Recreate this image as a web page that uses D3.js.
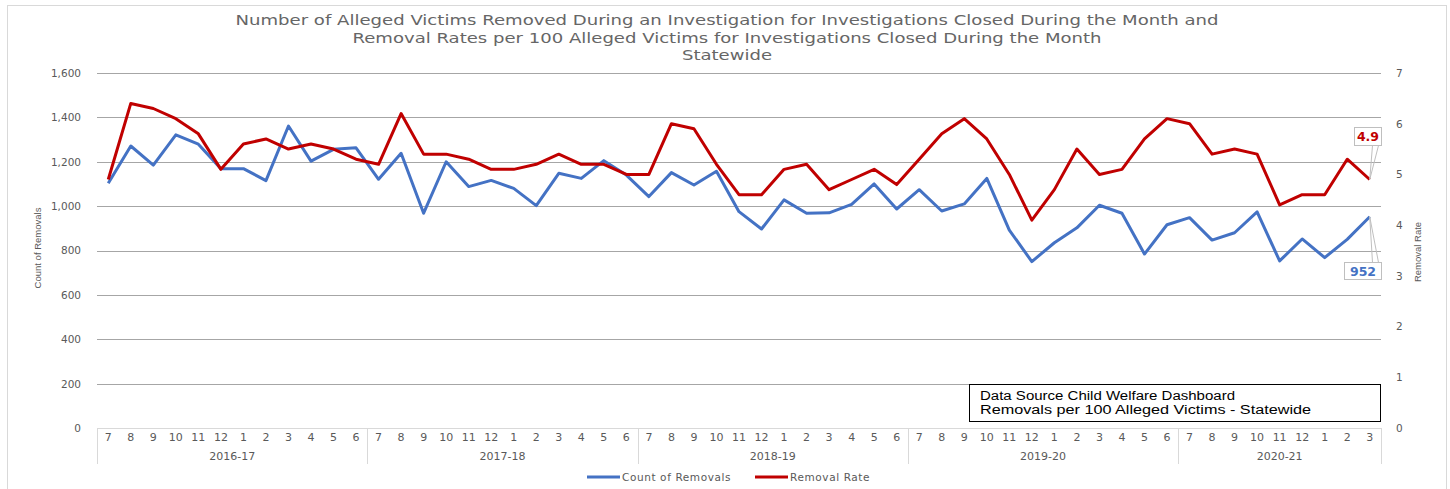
<!DOCTYPE html>
<html>
<head>
<meta charset="utf-8">
<script src="https://cdn.jsdelivr.net/npm/d3@7"></script>
<style>
  body { margin: 0; background: #fff; }
  svg text { font-family: "DejaVu Sans", Verdana, sans-serif; fill: #595959; }
</style>
</head>
<body>
<div id="chart"></div>
<script>
// fiscal years and months (Jul..Jun)
var fiscalYears = ["2016-17", "2017-18", "2018-19", "2019-20", "2020-21"];
var months      = ["7","8","9","10","11","12","1","2","3","4","5","6"];

// Count of Removals per month
var removalCounts = [
  1103, 1271, 1185, 1321, 1279, 1169, 1169, 1115, 1361, 1203, 1256, 1263,
  1121, 1238, 968, 1200, 1088, 1116, 1080, 1002, 1148, 1125, 1205, 1140,
  1043, 1151, 1095, 1157, 975, 897, 1028, 968, 970, 1008, 1100, 987,
  1074, 978, 1010, 1125, 892, 750, 835, 902, 1004, 968, 784, 916,
  948, 847, 880, 974, 753, 852, 768, 850, 952
];

// Removal Rate per 100 alleged victims
var removalRates = [
  4.9, 6.4, 6.3, 6.1, 5.8, 5.1, 5.6, 5.7, 5.5, 5.6, 5.5, 5.3,
  5.2, 6.2, 5.4, 5.4, 5.3, 5.1, 5.1, 5.2, 5.4, 5.2, 5.2, 5.0,
  5.0, 6.0, 5.9, 5.2, 4.6, 4.6, 5.1, 5.2, 4.7, 4.9, 5.1, 4.8,
  5.3, 5.8, 6.1, 5.7, 5.0, 4.1, 4.7, 5.5, 5.0, 5.1, 5.7, 6.1,
  6.0, 5.4, 5.5, 5.4, 4.4, 4.6, 4.6, 5.3, 4.9
];

var leftTicks  = [0, 200, 400, 600, 800, 1000, 1200, 1400, 1600];
var rightTicks = [0, 1, 2, 3, 4, 5, 6, 7];

var titleLines = [
  "Number of Alleged Victims Removed During an Investigation for Investigations Closed During the Month and",
  "Removal Rates per 100 Alleged Victims for Investigations Closed During the Month",
  "Statewide"
];
var sourceLines = ["Data Source Child Welfare Dashboard", "Removals per 100 Alleged Victims - Statewide"];

// build category list
var cats = [];
fiscalYears.forEach(function (fy, k) {
  months.forEach(function (m, j) {
    if (cats.length < removalCounts.length) cats.push({ fy: fy, m: m, key: fy + "-" + j });
  });
});

var width = 1450, height = 489;
var plotL = 97, plotR = 1381, plotT = 73, plotB = 428;
var blue = "#4472C4", red = "#C00000";

var svg = d3.select("#chart").append("svg")
  .attr("width", width).attr("height", height);

// chart border
svg.append("rect")
  .attr("x", 7.5).attr("y", 5.5).attr("width", 1439).attr("height", 500)
  .attr("fill", "none").attr("stroke", "#d9d9d9");

var x = d3.scaleBand().domain(cats.map(function (d) { return d.key; }))
  .range([plotL, plotR]);
var yL = d3.scaleLinear().domain([0, 1600]).range([plotB, plotT]);
var yR = d3.scaleLinear().domain([0, 7]).range([plotB, plotT]);

// title (source picture is a bit stretched sideways)
var titleW = [983, 749, 90];
svg.selectAll(".title").data(titleLines).enter().append("text")
  .attr("class", "title")
  .attr("x", 727).attr("y", function (d, i) { return 25 + i * 17.5; })
  .attr("text-anchor", "middle")
  .attr("textLength", function (d, i) { return titleW[i]; })
  .attr("lengthAdjust", "spacingAndGlyphs")
  .style("font-size", "14px")
  .style("fill", "#666")
  .text(function (d) { return d; });

// gridlines
svg.append("g").selectAll("line").data(leftTicks.slice(1)).enter().append("line")
  .attr("x1", plotL).attr("x2", plotR)
  .attr("y1", function (d) { return Math.round(yL(d)) + 0.5; })
  .attr("y2", function (d) { return Math.round(yL(d)) + 0.5; })
  .attr("stroke", "#a6a6a6").attr("stroke-width", 1);

// left axis
var gL = svg.append("g").attr("transform", "translate(" + (plotL - 13) + ",0)")
  .call(d3.axisLeft(yL).tickValues(leftTicks).tickSize(0).tickFormat(d3.format(",")));
gL.select(".domain").remove();
gL.selectAll("text").style("font-size", "10.5px").style("font-family", "DejaVu Sans").attr("fill", "#595959");

// right axis
var gR = svg.append("g").attr("transform", "translate(" + (plotR + 12) + ",0)")
  .call(d3.axisRight(yR).tickValues(rightTicks).tickSize(0).tickFormat(d3.format("d")));
gR.select(".domain").remove();
gR.selectAll("text").style("font-size", "10.5px").style("font-family", "DejaVu Sans").attr("fill", "#595959");

// axis titles
svg.append("text")
  .attr("transform", "translate(41,248) rotate(-90)")
  .attr("text-anchor", "middle")
  .style("font-family", "Liberation Sans")
  .style("font-size", "9.5px")
  .text("Count of Removals");
svg.append("text")
  .attr("transform", "translate(1421,252) rotate(-90)")
  .attr("text-anchor", "middle")
  .style("font-family", "Liberation Sans")
  .style("font-size", "9.5px")
  .text("Removal Rate");

// category axis frame
svg.append("line").attr("x1", plotL).attr("x2", plotR).attr("y1", plotB + 0.5).attr("y2", plotB + 0.5)
  .attr("stroke", "#d9d9d9");
var seps = fiscalYears.map(function (fy) {
  return cats.findIndex(function (c) { return c.fy === fy; });
});
var sepX = seps.map(function (i) { return x(cats[i].key); }).concat([plotR]);
svg.append("g").selectAll("line").data(sepX).enter().append("line")
  .attr("x1", function (d) { return Math.round(d) + 0.5; })
  .attr("x2", function (d) { return Math.round(d) + 0.5; })
  .attr("y1", plotB).attr("y2", 464)
  .attr("stroke", "#d9d9d9");

svg.append("g").selectAll("text").data(cats).enter().append("text")
  .attr("x", function (d) { return x(d.key) + x.bandwidth() / 2; })
  .attr("y", 441)
  .attr("text-anchor", "middle")
  .style("font-size", "11px")
  .text(function (d) { return d.m; });

svg.append("g").selectAll("text").data(fiscalYears).enter().append("text")
  .attr("x", function (d, i) { return (sepX[i] + sepX[i + 1]) / 2; })
  .attr("y", 460)
  .attr("text-anchor", "middle")
  .style("font-size", "11px")
  .text(function (d) { return d; });

// lines
var cx = function (d, i) { return x(cats[i].key) + x.bandwidth() / 2; };
svg.append("path").datum(removalCounts)
  .attr("fill", "none").attr("stroke", blue).attr("stroke-width", 3)
  .attr("stroke-linejoin", "round")
  .attr("d", d3.line().x(cx).y(function (d) { return yL(d); }));
svg.append("path").datum(removalRates)
  .attr("fill", "none").attr("stroke", red).attr("stroke-width", 3)
  .attr("stroke-linejoin", "round")
  .attr("d", d3.line().x(cx).y(function (d) { return yR(d); }));

// data callouts on last point
var n = removalCounts.length - 1;
var lastX = cx(null, n);
function callout(label, color, px, py, bx, by, bw, bh) {
  var ey = by > py ? by : by + bh;
  svg.append("line")
    .attr("x1", px).attr("y1", py)
    .attr("x2", bx + bw - 9).attr("y2", ey)
    .attr("stroke", "#bfbfbf");
  svg.append("line")
    .attr("x1", px).attr("y1", py)
    .attr("x2", bx + bw - 3).attr("y2", ey)
    .attr("stroke", "#bfbfbf");
  svg.append("rect").attr("x", bx).attr("y", by).attr("width", bw).attr("height", bh)
    .attr("fill", "#fff").attr("stroke", "#bfbfbf");
  svg.append("text").attr("x", bx + bw / 2).attr("y", by + bh / 2 + 4.5)
    .attr("text-anchor", "middle")
    .style("font-size", "12.5px").style("font-weight", "bold")
    .style("fill", color)
    .text(label);
}
callout(String(removalRates[n]), red, lastX, yR(removalRates[n]), 1354.5, 127.5, 27, 18);
callout(String(removalCounts[n]), blue, lastX, yL(removalCounts[n]), 1344.5, 262.5, 37, 17);

// data source box
svg.append("rect").attr("x", 969.5).attr("y", 384.5).attr("width", 411).attr("height", 37)
  .attr("fill", "#fff").attr("stroke", "#000").attr("stroke-width", 1);
var sourceW = [255, 331];
svg.append("g").selectAll("text").data(sourceLines).enter().append("text")
  .attr("x", 980).attr("y", function (d, i) { return 400 + i * 13.5; })
  .attr("textLength", function (d, i) { return sourceW[i]; })
  .attr("lengthAdjust", "spacingAndGlyphs")
  .style("font-family", "Liberation Sans")
  .style("font-size", "12.5px")
  .style("fill", "#000")
  .text(function (d) { return d; });

// legend
var legend = [{ name: "Count of Removals", color: blue, x: 587 }, { name: "Removal Rate", color: red, x: 755 }];
var lg = svg.append("g").selectAll("g").data(legend).enter().append("g")
  .attr("transform", function (d) { return "translate(" + d.x + ",477)"; });
lg.append("line").attr("x1", 0).attr("x2", 33).attr("y1", 0).attr("y2", 0)
  .attr("stroke", function (d) { return d.color; }).attr("stroke-width", 3);
lg.append("text").attr("x", 35).attr("y", 4)
  .style("font-size", "10.5px")
  .style("letter-spacing", "0.6px")
  .text(function (d) { return d.name; });
</script>
</body>
</html>
